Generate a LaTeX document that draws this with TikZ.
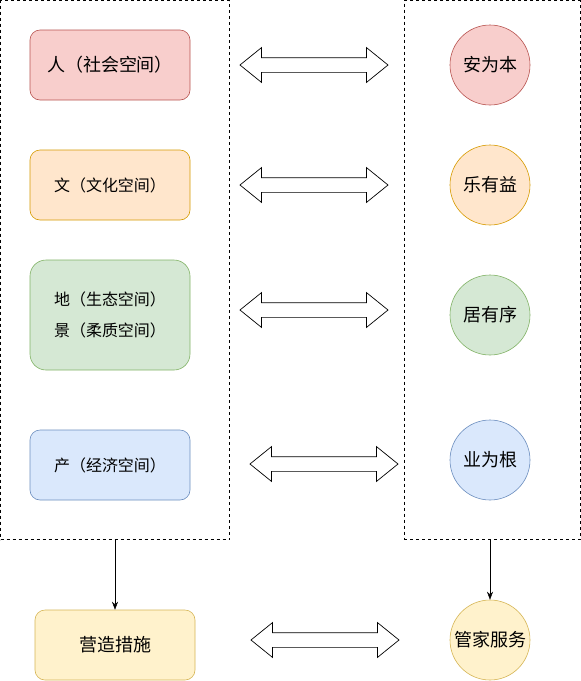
\documentclass[tikz,border=0pt]{standalone}
\usepackage{fontspec}
\newfontfamily\cjk{Noto Sans CJK SC}
\usetikzlibrary{shapes.arrows,arrows.meta}
\definecolor{redfill}{HTML}{F8CECC}\definecolor{redline}{HTML}{B85450}
\definecolor{orangefill}{HTML}{FFE6CC}\definecolor{orangeline}{HTML}{D79B00}
\definecolor{greenfill}{HTML}{D5E8D4}\definecolor{greenline}{HTML}{82B366}
\definecolor{bluefill}{HTML}{DAE8FC}\definecolor{blueline}{HTML}{6C8EBF}
\definecolor{yellowfill}{HTML}{FFF2CC}\definecolor{yellowline}{HTML}{D6B656}
\begin{document}
\begin{tikzpicture}[x=1pt,y=-1pt,every node/.style={font=\cjk\fontsize{16}{31}\selectfont},
    big/.style={font=\cjk\fontsize{18}{22}\selectfont},
    frame/.style={draw,dashed,minimum width=#1,minimum height=539pt,inner sep=0pt},
    space/.style={draw=#1line,fill=#1fill,rounded corners=10pt,minimum width=160pt,minimum height=70pt,inner sep=0pt,line width=0.6pt},
    goal/.style={circle,draw=#1line,fill=#1fill,minimum size=80pt,inner sep=0pt,line width=0.6pt,big},
    dbl/.style={double arrow,draw,line width=0.7pt,minimum height=148pt,minimum width=31pt,double arrow head extend=10pt,double arrow tip angle=78,inner xsep=0pt,inner ysep=7pt}]
  \useasboundingbox[fill=white] (0,0) rectangle (581,681);
  \node[frame=229pt] (left) at (115,270) {};
  \node[frame=176pt] (right) at (492,270) {};
  \node[space=red,big] (ren) at (110,65) {人（社会空间）};
  \node[space=orange] (wen) at (110,185) {文（文化空间）};
  \node[space=green,minimum height=110pt,rounded corners=16pt,align=center] (di) at (110,315) {地（生态空间）\\景（柔质空间）};
  \node[space=blue] (chan) at (110,465) {产（经济空间）};
  \node[space=yellow,big] (ying) at (115,645) {营造措施};
  \node[goal=red] (an) at (490,65) {安为本};
  \node[goal=orange] (le) at (490,185) {乐有益};
  \node[goal=green] (ju) at (490,315) {居有序};
  \node[goal=blue] (ye) at (490,460) {业为根};
  \node[goal=yellow] (guan) at (490,640) {管家服务};
  \node[dbl] (d1) at (314,65) {};
  \node[dbl] (d2) at (314,185) {};
  \node[dbl] (d3) at (314,310) {};
  \node[dbl] (d4) at (324,464) {};
  \node[dbl] (d5) at (325,640) {};
  \draw[-{Stealth[length=8pt,width=6pt]}] (left.south) -- (ying.north);
  \draw[-{Stealth[length=8pt,width=6pt]}] (guan.north |- right.south) -- (guan.north);
\end{tikzpicture}
\end{document}
